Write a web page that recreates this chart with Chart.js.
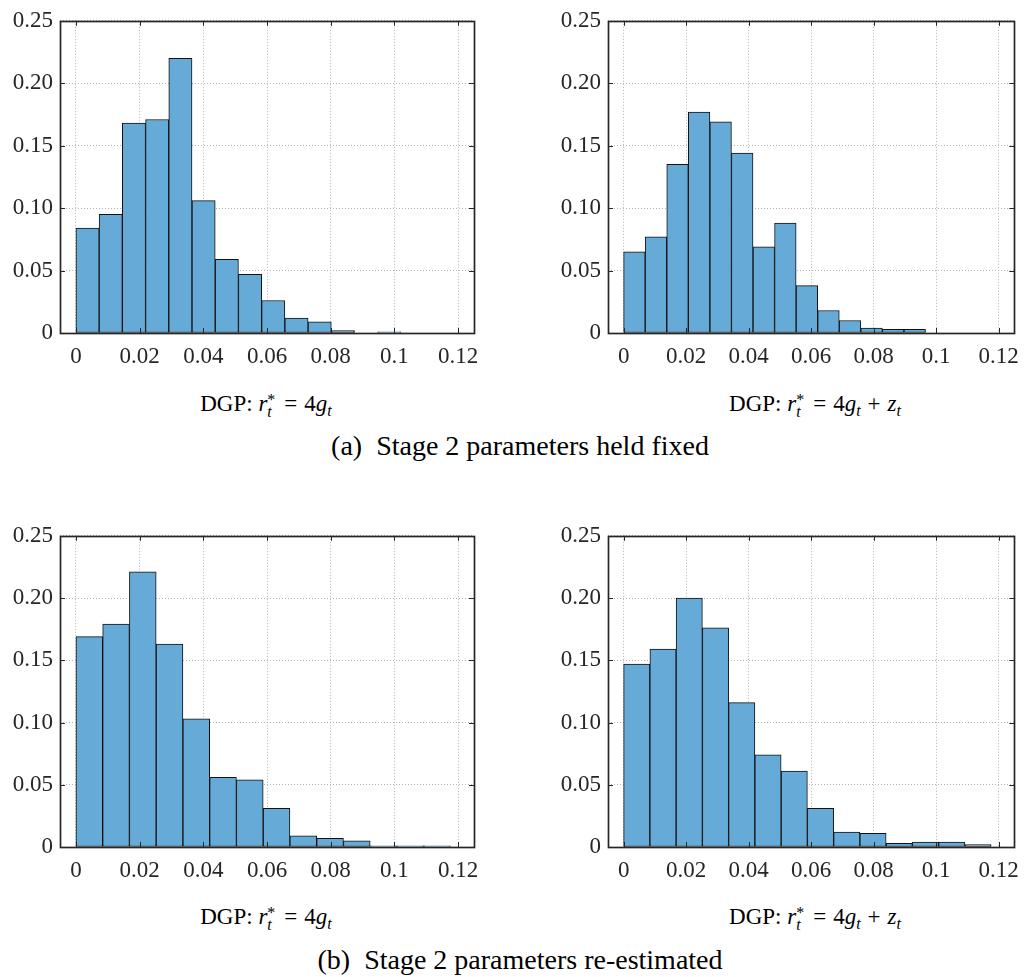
<!DOCTYPE html>
<html>
<head>
<meta charset="utf-8">
<script src="https://cdn.jsdelivr.net/npm/chart.js@4/dist/chart.umd.min.js"></script>
<style>
body { margin: 0; background: #fff; width: 1029px; height: 977px; position: relative; overflow: hidden;
       font-family: "Liberation Serif", serif; color: #000; }
.panel { position: absolute; }
.cap { position: absolute; white-space: nowrap; transform: translate(-50%, -50%); font-size: 23px; }
.sub { position: absolute; white-space: nowrap; transform: translate(-50%, -50%); font-size: 28px; }
.ss { display: inline-block; vertical-align: middle; line-height: 0.75; font-size: 16px; margin-right: 2px; }
.ss span { display: block; }
.t { font-size: 16px; vertical-align: -5px; font-style: italic; }
.op { margin: 0 7px; }
</style>
</head>
<body>

<div class="panel" style="left:0px; top:0px; width:490px; height:380px"><canvas id="cA1"></canvas></div>
<div class="panel" style="left:548px; top:0px; width:481px; height:380px"><canvas id="cA2"></canvas></div>
<div class="panel" style="left:0px; top:515px; width:490px; height:379px"><canvas id="cB1"></canvas></div>
<div class="panel" style="left:548px; top:515px; width:481px; height:379px"><canvas id="cB2"></canvas></div>

<div class="cap" style="left:266px; top:405px">DGP: <i>r</i><span class="ss"><span>*</span><span><i>t</i></span></span><span class="op">=</span>4<i>g</i><span class="t">t</span></div>
<div class="cap" style="left:815px; top:405px">DGP: <i>r</i><span class="ss"><span>*</span><span><i>t</i></span></span><span class="op">=</span>4<i>g</i><span class="t">t</span><span class="op">+</span><i>z</i><span class="t">t</span></div>
<div class="sub" style="left:520px; top:446px">(a)&ensp;Stage 2 parameters held fixed</div>

<div class="cap" style="left:266px; top:918px">DGP: <i>r</i><span class="ss"><span>*</span><span><i>t</i></span></span><span class="op">=</span>4<i>g</i><span class="t">t</span></div>
<div class="cap" style="left:815px; top:918px">DGP: <i>r</i><span class="ss"><span>*</span><span><i>t</i></span></span><span class="op">=</span>4<i>g</i><span class="t">t</span><span class="op">+</span><i>z</i><span class="t">t</span></div>
<div class="sub" style="left:520px; top:960px">(b)&ensp;Stage 2 parameters re-estimated</div>

<script>
// axis ticks shared by all four panels
var xTicks = [0, 0.02, 0.04, 0.06, 0.08, 0.1, 0.12];
var xTickLabels = ['0', '0.02', '0.04', '0.06', '0.08', '0.1', '0.12'];
var yTicks = [0, 0.05, 0.10, 0.15, 0.20, 0.25];
var yTickLabels = ['0', '0.05', '0.10', '0.15', '0.20', '0.25'];

// (a) stage 2 parameters held fixed
var binWidthA1 = 0.00729;
var freqA1 = [0.084, 0.095, 0.168, 0.171, 0.220, 0.106, 0.059, 0.047, 0.026, 0.012, 0.009, 0.002, 0, 0.001];
var binWidthA2 = 0.0069;
var freqA2 = [0.065, 0.077, 0.135, 0.177, 0.169, 0.144, 0.069, 0.088, 0.038, 0.018, 0.010, 0.004, 0.003, 0.003];

// (b) stage 2 parameters re-estimated
var binWidthB1 = 0.0084;
var freqB1 = [0.169, 0.179, 0.221, 0.163, 0.103, 0.056, 0.054, 0.031, 0.009, 0.007, 0.005, 0.001, 0.001, 0.001];
var binWidthB2 = 0.0084;
var freqB2 = [0.147, 0.159, 0.200, 0.176, 0.116, 0.074, 0.061, 0.031, 0.012, 0.011, 0.003, 0.004, 0.004, 0.002];

var axisColor = '#262626';

Chart.defaults.font.family = '"Liberation Serif", serif';
Chart.defaults.font.size = 23;
Chart.defaults.color = axisColor;

// box around the axes and inward tick marks, like matlab
var framePlugin = {
	id: 'frame',
	afterDatasetsDraw: function(chart) {
		var ctx = chart.ctx, a = chart.chartArea;
		var xs = chart.scales.x, ys = chart.scales.y;
		ctx.save();
		ctx.strokeStyle = axisColor;
		ctx.lineWidth = 1;
		ctx.beginPath();
		for (var i = 0; i < xTicks.length; i++) {
			var px = Math.round(xs.getPixelForValue(xTicks[i])) + 0.5;
			ctx.moveTo(px, a.bottom); ctx.lineTo(px, a.bottom - 5);
			ctx.moveTo(px, a.top); ctx.lineTo(px, a.top + 5);
		}
		for (var j = 0; j < yTicks.length; j++) {
			var py = Math.round(ys.getPixelForValue(yTicks[j])) + 0.5;
			ctx.moveTo(a.left, py); ctx.lineTo(a.left + 5, py);
			ctx.moveTo(a.right, py); ctx.lineTo(a.right - 5, py);
		}
		ctx.stroke();
		ctx.lineWidth = 1.7;
		ctx.strokeRect(Math.round(a.left) + 0.5, Math.round(a.top) + 0.5,
			Math.round(a.right - a.left), Math.round(a.bottom - a.top));
		ctx.restore();
	}
};

function makeHist(id, binWidth, freq, padRight) {
	var points = [];
	for (var i = 0; i < freq.length; i++) {
		points.push({ x: (i + 0.5) * binWidth, y: freq[i] });
	}
	return new Chart(document.getElementById(id), {
		type: 'bar',
		data: {
			datasets: [{
				data: points,
				backgroundColor: '#66aad7',
				borderColor: '#111',
				borderWidth: 1,
				borderSkipped: false,
				barPercentage: 1,
				categoryPercentage: 1
			}]
		},
		options: {
			responsive: true,
			maintainAspectRatio: false,
			animation: false,
			layout: { autoPadding: false, padding: { top: 16, right: padRight, left: 0, bottom: 0 } },
			plugins: { legend: { display: false }, tooltip: { enabled: false } },
			scales: {
				x: {
					type: 'linear',
					min: -0.005,
					max: 0.125,
					offset: false,
					grid: { offset: false, color: '#b4b4b4', drawTicks: false },
					border: { display: false, dash: [1, 2] },
					afterBuildTicks: function(s) { s.ticks = xTicks.map(function(v) { return { value: v }; }); },
					afterFit: function(s) { s.height = 47; },
					ticks: {
						padding: 10,
						maxRotation: 0,
						autoSkip: false,
						callback: function(v, i) { return xTickLabels[i]; }
					}
				},
				y: {
					min: 0,
					max: 0.25,
					grid: { color: '#b4b4b4', drawTicks: false },
					border: { display: false, dash: [1, 2] },
					afterBuildTicks: function(s) { s.ticks = yTicks.map(function(v) { return { value: v }; }); },
					afterFit: function(s) { s.width = 60; },
					ticks: {
						padding: 7,
						autoSkip: false,
						callback: function(v, i) { return yTickLabels[i]; }
					}
				}
			}
		},
		plugins: [framePlugin]
	});
}

makeHist('cA1', binWidthA1, freqA1, 16);
makeHist('cA2', binWidthA2, freqA2, 6);
makeHist('cB1', binWidthB1, freqB1, 16);
makeHist('cB2', binWidthB2, freqB2, 6);
</script>
</body>
</html>
